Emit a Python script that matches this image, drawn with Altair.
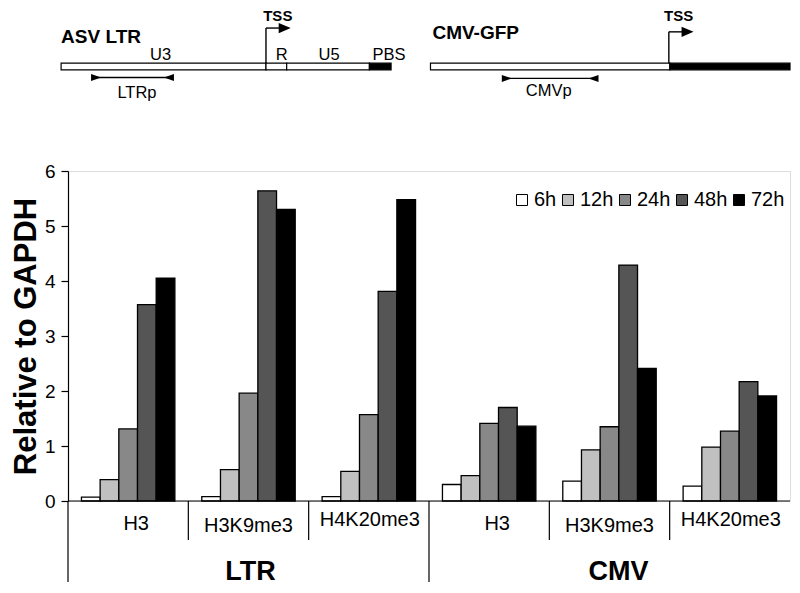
import altair as alt
import pandas as pd

FONT = "Liberation Sans"

# ---------------- data ----------------
groups = ["LTR H3", "LTR H3K9me3", "LTR H4K20me3", "CMV H3", "CMV H3K9me3", "CMV H4K20me3"]
group_mark = ["H3", "H3K9me3", "H4K20me3", "H3", "H3K9me3", "H4K20me3"]
group_target = ["LTR", "LTR", "LTR", "CMV", "CMV", "CMV"]
times = ["6h", "12h", "24h", "48h", "72h"]
time_colors = ["#ffffff", "#c0c0c0", "#888888", "#555555", "#000000"]
v_6h = [0.07, 0.08, 0.08, 0.30, 0.36, 0.27]
v_12h = [0.39, 0.57, 0.54, 0.46, 0.93, 0.98]
v_24h = [1.31, 1.96, 1.57, 1.41, 1.35, 1.27]
v_48h = [3.57, 5.64, 3.81, 1.70, 4.29, 2.17]
v_72h = [4.05, 5.30, 5.48, 1.36, 2.41, 1.91]
y_ticks = [0, 1, 2, 3, 4, 5, 6]

# schematic (in the drawing units of the original figure)
seg_name = ["U3", "R", "U5", "PBS", "CMV", "GFP"]
seg_start = [60, 268, 289, 373, 435, 678]
seg_end = [268, 289, 373, 395, 678, 800]
seg_dark = [False, False, False, True, False, True]
seg_top, seg_bottom = 58, 65
region_labels = ["U3", "R", "U5", "PBS", "LTRp", "CMVp"]
region_x = [161, 284, 332, 393, 137, 555]
region_y = [49, 49, 49, 49, 89, 87]
construct_names = ["ASV LTR", "CMV-GFP"]
construct_x = [60, 437]
construct_y = [37, 33]
tss_x = [268, 677]
tss_y = [21, 25]
tss_text_x = [280, 687]
primer_start = [91, 508]
primer_end = [174, 605]
primer_y = [73, 74]

# ---------------- layout ----------------
W, H = 722, 330

series = {"6h": v_6h, "12h": v_12h, "24h": v_24h, "48h": v_48h, "72h": v_72h}
rows = []
for t in times:
    for g, v in zip(groups, series[t]):
        rows.append({"group": g, "time": t, "value": v})
df = pd.DataFrame(rows)

gscale = alt.Scale(domain=groups, paddingInner=0, paddingOuter=0)


def gx(**kw):
    return alt.X("group:N", scale=gscale, axis=None, **kw)


bars = alt.Chart(df).mark_bar(stroke="black", strokeWidth=1.3).encode(
    x=gx(),
    xOffset=alt.XOffset("time:N", scale=alt.Scale(domain=times, paddingInner=0, paddingOuter=0.72)),
    y=alt.Y(
        "value:Q",
        scale=alt.Scale(domain=[0, 6], nice=False),
        title="Relative to GAPDH",
        axis=alt.Axis(
            values=y_ticks, format="d", grid=False, tickSize=7, tickColor="black", tickWidth=1.2,
            domainColor="black", domainWidth=1.2, labelFontSize=19, labelColor="black",
            labelPadding=6, labelFont=FONT, titleFont=FONT, titleFontSize=31,
            titleFontWeight="bold", titleColor="black", titlePadding=2,
        ),
    ),
    fill=alt.Fill(
        "time:N",
        scale=alt.Scale(domain=times, range=time_colors),
        title=None,
        legend=alt.Legend(
            orient="none", legendX=444, legendY=19, direction="horizontal",
            symbolType="square", symbolSize=121, symbolStrokeColor="black",
            symbolStrokeWidth=1, labelFontSize=20, labelFont=FONT, labelColor="black",
            columnPadding=1, labelOffset=2, padding=0,
        ),
    ),
)

baseline = alt.Chart(pd.DataFrame({"z": [0]})).mark_rule(color="black", strokeWidth=1.2).encode(
    y=alt.datum(0), x=alt.value(0), x2=alt.value(W)
)

inner_sep = alt.Chart(pd.DataFrame({"group": [groups[i] for i in (1, 2, 4, 5)]})).mark_rule(
    color="black", strokeWidth=1.2
).encode(x=gx(bandPosition=0), y=alt.value(H), y2=alt.value(H + 39))

outer_sep = alt.Chart(pd.DataFrame({"group": [groups[i] for i in (0, 3)]})).mark_rule(
    color="black", strokeWidth=1.2
).encode(x=gx(bandPosition=0), y=alt.value(H), y2=alt.value(H + 81))

label_dx = {"H3": 8, "H3K9me3": 0, "H4K20me3": 1}
label_dy = {"H3": 23, "H3K9me3": 24.5, "H4K20me3": 18.5}
label_layers = []
for m in ["H3", "H3K9me3", "H4K20me3"]:
    sub = pd.DataFrame({"group": [g for g, mm in zip(groups, group_mark) if mm == m], "label": m})
    label_layers.append(
        alt.Chart(sub).mark_text(fontSize=20, font=FONT, dx=label_dx[m], baseline="middle", color="black")
        .encode(x=gx(), y=alt.value(H + label_dy[m]), text="label:N")
    )

outer_dx = {"LTR": 2, "CMV": 9}
outer_layers = []
for tgt, gi in [("LTR", 1), ("CMV", 4)]:
    sub = pd.DataFrame({"group": [groups[gi]], "label": [tgt]})
    outer_layers.append(
        alt.Chart(sub).mark_text(fontSize=27, font=FONT, fontWeight="bold", dx=outer_dx[tgt],
                                 baseline="alphabetic", color="black")
        .encode(x=gx(), y=alt.value(H + 79), text="label:N")
    )

bar_part = alt.layer(bars, baseline, inner_sep, outer_sep, *label_layers, *outer_layers)

# ---------------- schematic ----------------
sx = alt.Scale(domain=[67, 800], range=[0, W], nice=False, zero=False)
sy = alt.Scale(domain=[2, 96], range=[-161, -71.7], nice=False, zero=False)


def dxq(f):
    return alt.X(f, scale=sx, axis=None)


def dyq(f):
    return alt.Y(f, scale=sy, axis=None)


seg_df = pd.DataFrame({
    "name": seg_name, "x1": seg_start, "x2": seg_end,
    "y1": seg_top, "y2": seg_bottom,
    "fill": ["black" if d else "white" for d in seg_dark],
})
segs = alt.Chart(seg_df).mark_rect(stroke="black", strokeWidth=1.2).encode(
    x=dxq("x1:Q"), x2="x2:Q", y=dyq("y1:Q"), y2="y2:Q", fill=alt.Fill("fill:N", scale=None)
)

line_rows = []
for x, y in zip(tss_x, tss_y):
    line_rows.append({"x1": x, "x2": x, "y1": seg_top, "y2": y})
    line_rows.append({"x1": x, "x2": x + 14, "y1": y, "y2": y})
for a, b, y in zip(primer_start, primer_end, primer_y):
    line_rows.append({"x1": a, "x2": b, "y1": y, "y2": y})
lines = alt.Chart(pd.DataFrame(line_rows)).mark_rule(color="black", strokeWidth=1.4).encode(
    x=dxq("x1:Q"), x2="x2:Q", y=dyq("y1:Q"), y2="y2:Q"
)

RIGHT_HEAD = "M-1,-0.7L1,0L-1,0.7Z"
LEFT_HEAD = "M1,-0.7L-1,0L1,0.7Z"
TSS_HEAD = "M-1,-0.85L1,0L-1,0.85Z"
head_rows = []
for x, y in zip(tss_x, tss_y):
    head_rows.append({"x": x + 19, "y": y, "shape": TSS_HEAD, "size": 144})
for a, b, y in zip(primer_start, primer_end, primer_y):
    head_rows.append({"x": a + 4.5, "y": y, "shape": RIGHT_HEAD, "size": 100})
    head_rows.append({"x": b - 4.5, "y": y, "shape": LEFT_HEAD, "size": 100})
heads = alt.Chart(pd.DataFrame(head_rows)).mark_point(filled=True, color="black", opacity=1, strokeWidth=0).encode(
    x=dxq("x:Q"), y=dyq("y:Q"),
    shape=alt.Shape("shape:N", scale=None), size=alt.Size("size:Q", scale=None)
)

construct_text = alt.Chart(pd.DataFrame({"t": construct_names, "x": construct_x, "y": construct_y})).mark_text(
    fontSize=19, font=FONT, fontWeight="bold", align="left", baseline="alphabetic", color="black"
).encode(x=dxq("x:Q"), y=dyq("y:Q"), text="t:N")

tss_text = alt.Chart(pd.DataFrame({"t": ["TSS", "TSS"], "x": tss_text_x, "y": [8, 8]})).mark_text(
    fontSize=15, font=FONT, fontWeight="bold", align="center", baseline="middle", color="black"
).encode(x=dxq("x:Q"), y=dyq("y:Q"), text="t:N")

region_text = alt.Chart(pd.DataFrame({"t": region_labels, "x": region_x, "y": region_y})).mark_text(
    fontSize=16.5, font=FONT, align="center", baseline="middle", color="black"
).encode(x=dxq("x:Q"), y=dyq("y:Q"), text="t:N")

diagram = alt.layer(segs, lines, heads, construct_text, tss_text, region_text)

chart = (
    alt.layer(bar_part, diagram)
    .resolve_scale(x="independent", y="independent")
    .properties(width=W, height=H, padding={"left": 2, "top": 0, "right": 0, "bottom": 0})
    .configure_view(stroke=None)
    .configure(font=FONT)
)

chart.save("out.html", embed_options={"renderer": "svg", "actions": False})
